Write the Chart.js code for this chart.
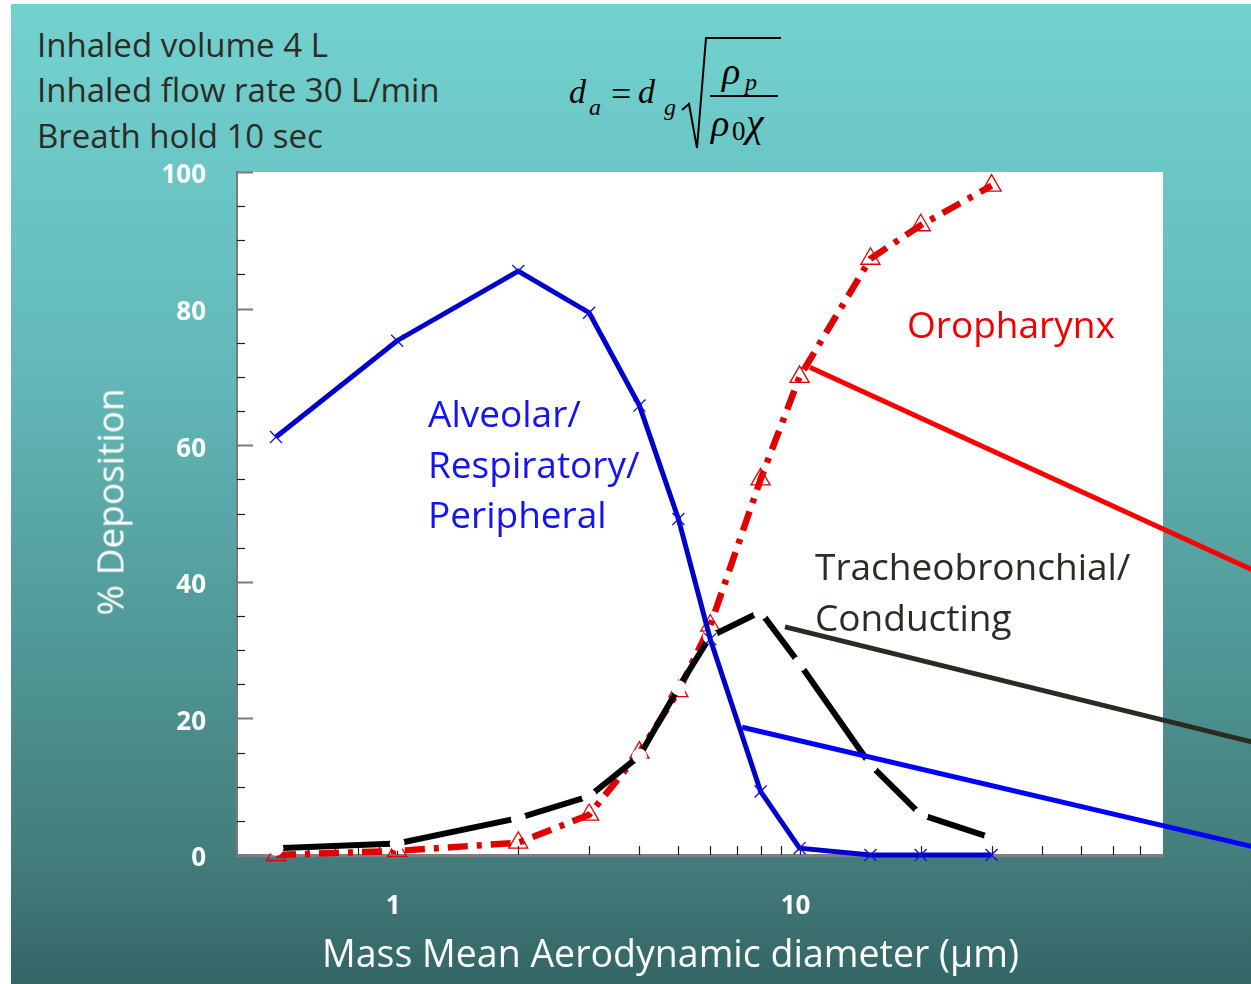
<!DOCTYPE html>
<html>
<head>
<meta charset="utf-8">
<script src="https://cdn.jsdelivr.net/npm/chart.js@4.4.1/dist/chart.umd.min.js"></script>
<style>
  html, body { margin:0; padding:0; width:1251px; height:984px; overflow:hidden; background:#fff; }
  #slide { position:absolute; left:11px; top:4px; width:1240px; height:980px;
           background:linear-gradient(to bottom, #72d2d0 0%, #63b9b8 37%, #4e9695 67%, #427a79 89%, #336565 100%); }
  #chartBox { position:absolute; left:0; top:0; width:1251px; height:984px; }
  .txt { position:absolute; font-family:'Open Sans', sans-serif; white-space:nowrap; line-height:1; }
  #formula { position:absolute; left:0; top:0; }
  #formula text { font-family:'Liberation Serif', 'DejaVu Serif', serif; fill:#000; }
</style>
</head>
<body>
<div id="slide"></div>

<div class="txt" style="left:37px; top:28px; font-size:33px; color:#2e2b25;">Inhaled volume 4 L</div>
<div class="txt" style="left:37px; top:73px; font-size:33px; color:#2e2b25;">Inhaled flow rate 30 L/min</div>
<div class="txt" style="left:37px; top:119px; font-size:33px; color:#2e2b25;">Breath hold 10 sec</div>

<svg id="formula" width="800" height="165">
  <text x="569" y="103" font-size="34" font-style="italic">d</text>
  <text x="589" y="115" font-size="24" font-style="italic">a</text>
  <text x="611" y="106" font-size="36">=</text>
  <text x="638" y="103" font-size="34" font-style="italic">d</text>
  <text x="664" y="115" font-size="24" font-style="italic">g</text>
  <path d="M682,110 L689,104 L697,148 L706,38 L781,38" fill="none" stroke="#000" stroke-width="2"/>
  <line x1="710" y1="96" x2="778" y2="96" stroke="#000" stroke-width="2"/>
  <text x="722" y="84" font-size="38" font-style="italic">ρ</text>
  <text x="745" y="90" font-size="24" font-style="italic">p</text>
  <text x="711" y="136" font-size="38" font-style="italic">ρ</text>
  <text x="732" y="140" font-size="27">0</text>
  <text x="746" y="136" font-size="40" font-style="italic">χ</text>
</svg>

<div id="chartBox"><canvas id="depChart" width="1251" height="984"></canvas></div>

<div class="txt" style="left:109px; top:502px; font-size:37px; color:#fff; transform:translate(-50%,-50%) rotate(-90deg);">% Deposition</div>
<div class="txt" style="left:322px; top:934px; font-size:37.5px; color:#fff;">Mass Mean Aerodynamic diameter (µm)</div>

<div class="txt" style="left:428px; top:394px; font-size:37px; color:#1414f0;">Alveolar/</div>
<div class="txt" style="left:428px; top:445px; font-size:37px; color:#1414f0;">Respiratory/</div>
<div class="txt" style="left:428px; top:495px; font-size:37px; color:#1414f0;">Peripheral</div>
<div class="txt" style="left:907px; top:305px; font-size:37px; color:#f00000;">Oropharynx</div>
<div class="txt" style="left:815px; top:547px; font-size:37px; color:#2d2b24;">Tracheobronchial/</div>
<div class="txt" style="left:815px; top:598px; font-size:37px; color:#2d2b24;">Conducting</div>

<script>
// --- DATA ---
const diameters = [0.5, 1, 2, 3, 4, 5, 6, 8, 10, 15, 20, 30];
const alveolar = [61.2, 75.3, 85.5, 79.4, 65.8, 49.2, 31.6, 9.3, 1, 0, 0, 0];
const oropharynx = [0, 0.6, 1.8, 5.9, 15, 24, 33.6, 55, 70, 87.3, 92.2, 98];
const tracheobronchial = [1, 1.7, 5.4, 8.6, 14.5, 24.5, 32, 35.6, 28, 13.2, 5.9, 2.5];

const xTickLabels = [1, 10];
const yTickLabels = [0, 20, 40, 60, 80, 100];

// leader lines from label to curve, in data units [x, y]
const leaderRed = [[10.6, 71.4], [134, 41.7]];
const leaderBlack = [[9.2, 33.4], [134, 16.5]];
const leaderBlue = [[7.2, 18.7], [134, 1.2]];

const toPoints = arr => diameters.map((d, i) => ({ x: d, y: arr[i] }));

// white plot area, inward tick marks, leader lines
const plotFrame = {
    id: 'plotFrame',
    beforeDraw(chart) {
        const { ctx, chartArea: a } = chart;
        ctx.save();
        ctx.fillStyle = '#fff';
        ctx.fillRect(a.left, a.top, a.right - a.left, a.bottom - a.top);
        ctx.restore();
    },
    beforeDatasetsDraw(chart) {
        const { ctx, chartArea: a, scales: { x, y } } = chart;
        ctx.save();
        for (let v = 0; v <= 100; v += 5) {
            const py = Math.round(y.getPixelForValue(v)) + 0.5;
            const major = v % 20 === 0;
            ctx.strokeStyle = major ? '#7a7a7a' : '#1e1e1e';
            ctx.lineWidth = major ? 2 : 1.2;
            ctx.beginPath();
            ctx.moveTo(a.left, py);
            ctx.lineTo(a.left + (major ? 16 : 8), py);
            ctx.stroke();
        }
        [0.1, 1, 10].forEach(dec => {
            for (let m = 1; m <= 9; m++) {
                const v = m * dec;
                if (v <= x.min * 1.001 || v >= x.max * 0.999) continue;
                const px = Math.round(x.getPixelForValue(v)) + 0.5;
                ctx.strokeStyle = '#1e1e1e';
                ctx.lineWidth = 1.2;
                ctx.beginPath();
                ctx.moveTo(px, a.bottom);
                ctx.lineTo(px, a.bottom - 9);
                ctx.stroke();
            }
        });
        ctx.restore();
    },
    afterDatasetsDraw(chart) {
        const { ctx, scales: { x, y } } = chart;
        const lines = [[leaderRed, '#ff0000'], [leaderBlack, '#2d2a22'], [leaderBlue, '#0000ff']];
        ctx.save();
        ctx.lineWidth = 5;
        lines.forEach(([pts, col]) => {
            ctx.strokeStyle = col;
            ctx.beginPath();
            ctx.moveTo(x.getPixelForValue(pts[0][0]), y.getPixelForValue(pts[0][1]));
            ctx.lineTo(x.getPixelForValue(pts[1][0]), y.getPixelForValue(pts[1][1]));
            ctx.stroke();
        });
        ctx.restore();
    }
};

Chart.defaults.font.family = "'Open Sans', sans-serif";

new Chart(document.getElementById('depChart'), {
    type: 'line',
    data: {
        datasets: [
            {
                label: 'Alveolar/Respiratory/Peripheral',
                data: toPoints(alveolar),
                borderColor: '#0000cc', borderWidth: 5,
                pointStyle: 'crossRot', pointRadius: 8.5,
                pointBorderColor: '#1010dd', pointBorderWidth: 1.3,
                pointBackgroundColor: '#1010dd',
                tension: 0, order: 0, clip: false
            },
            {
                label: 'Tracheobronchial/Conducting',
                data: toPoints(tracheobronchial),
                borderColor: '#000000', borderWidth: 6,
                pointStyle: 'circle', pointRadius: 7.5,
                pointBackgroundColor: '#ffffff', pointBorderColor: '#ffffff', pointBorderWidth: 0,
                tension: 0, order: 1, clip: false
            },
            {
                label: 'Oropharynx',
                data: toPoints(oropharynx),
                borderColor: '#e00000', borderWidth: 6.5, borderDash: [20, 9, 5, 9],
                pointStyle: 'triangle', pointRadius: 11,
                pointBackgroundColor: 'rgba(255,255,255,0)', pointBorderColor: '#e00000', pointBorderWidth: 1.3,
                tension: 0, order: 2, clip: false
            }
        ]
    },
    options: {
        responsive: false,
        animation: false,
        layout: { padding: { top: 172, right: 88, left: 0, bottom: 0 } },
        plugins: { legend: { display: false }, tooltip: { enabled: false } },
        scales: {
            x: {
                type: 'logarithmic', min: 0.4, max: 80,
                afterBuildTicks: s => { s.ticks = xTickLabels.map(v => ({ value: v })); },
                afterFit: s => { s.height = 129; },
                ticks: { color: '#fff', font: { size: 26, weight: 'bold' }, padding: 36, labelOffset: -4,
                         maxRotation: 0, autoSkip: false, callback: v => String(v) },
                grid: { display: false, drawTicks: false },
                border: { display: true, color: '#808080', width: 3 }
            },
            y: {
                min: 0, max: 100,
                afterBuildTicks: s => { s.ticks = yTickLabels.map(v => ({ value: v })); },
                afterFit: s => { s.width = 237; },
                ticks: { color: '#fff', font: { size: 26, weight: 'bold' }, padding: 31, labelOffset: 4 },
                grid: { display: false, drawTicks: false },
                border: { display: true, color: '#7a7a7a', width: 2 }
            }
        }
    },
    plugins: [plotFrame]
});
</script>
</body>
</html>
